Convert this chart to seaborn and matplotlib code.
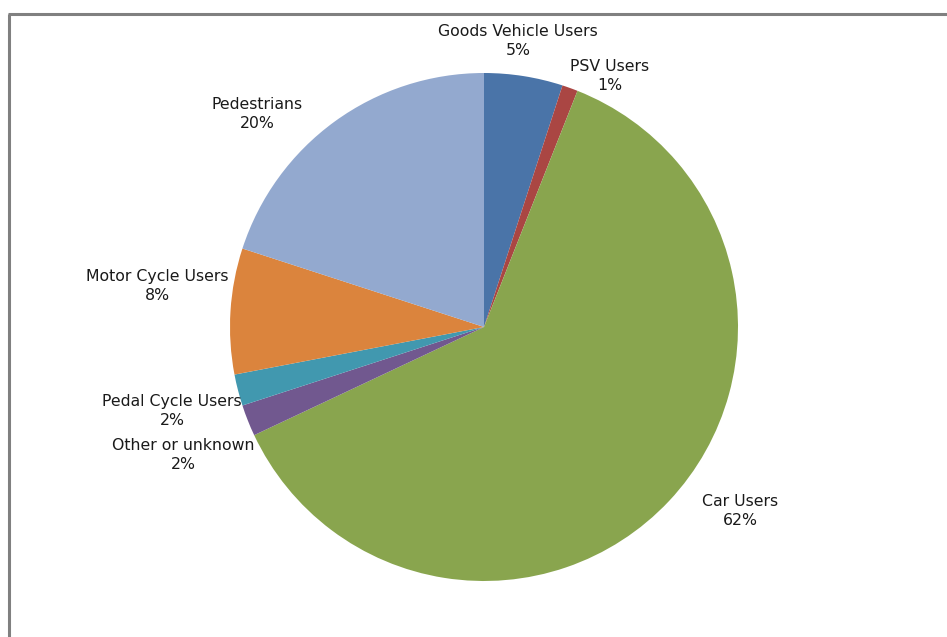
import matplotlib
matplotlib.use("Agg")
import matplotlib.pyplot as plt
import seaborn as sns

# Road casualties by road user type (share of total, %)
categories = ["Goods Vehicle Users", "PSV Users", "Car Users", "Other or unknown",
              "Pedal Cycle Users", "Motor Cycle Users", "Pedestrians"]
shares = [5, 1, 62, 2, 2, 8, 20]
colors = ["#4A74A8", "#AA4643", "#89A54E", "#71588F", "#4198AF", "#DB843D", "#93A9CF"]

# label anchor points (canvas pixels, origin top-left)
label_pos = [(518, 41), (610, 76), (257, 114), (157, 286), (172, 411), (183, 455), (740, 511)]
label_order = [0, 1, 6, 5, 4, 3, 2]

sns.set_theme(style="white")
plt.rcParams["font.family"] = ["DejaVu Sans"]

W, H = 947, 637
fig = plt.figure(figsize=(W / 100, H / 100), dpi=100)
ax = fig.add_axes([0, 0, 1, 1])

ax.pie(shares, colors=colors, startangle=90, counterclock=False,
       center=(484, H - 327), radius=254, frame=True,
       wedgeprops=dict(linewidth=0))
ax.set_xlim(0, W)
ax.set_ylim(0, H)
ax.set_aspect("equal")
ax.axis("off")

for i, (px, py) in zip(label_order, label_pos):
    ax.text(px, H - py, f"{categories[i]}\n{shares[i]}%", ha="center", va="center",
            fontsize=11.3, color="#1a1a1a", linespacing=1.3)

# outer frame (top and left edges)
ax.plot([8, W], [H - 14, H - 14], color="#808080", lw=2.2, solid_capstyle="butt")
ax.plot([9, 9], [H - 14, 0], color="#808080", lw=2.2, solid_capstyle="butt")

fig.savefig("out.png", dpi=100)
